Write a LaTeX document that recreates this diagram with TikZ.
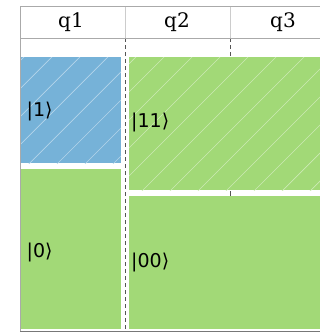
\documentclass[tikz,border=0pt]{standalone}
\usepackage{fontspec}
\setmainfont{DejaVu Serif}
\newfontfamily\labfont{DejaVu Sans}
\usetikzlibrary{patterns.meta}
\definecolor{cblue}{RGB}{118,178,216}
\definecolor{cgreen}{RGB}{162,217,119}
\definecolor{cgrid}{RGB}{170,170,170}
\definecolor{cdash}{RGB}{85,85,85}
\tikzset{
  hatch/.style={pattern={Lines[angle=45,distance=19.8pt,line width=0.7pt]},pattern color=white!45!#1},
  statelab/.style={font=\labfont\fontsize{19}{21}\selectfont, anchor=west, inner sep=0pt, text=black},
  qlab/.style={font=\fontsize{20}{22}\selectfont, inner sep=0pt},
  grid/.style={draw=cgrid, line width=1pt},
  sep/.style={draw=cdash, line width=1pt, dash pattern=on 4pt off 3pt}
}
\begin{document}
\begin{tikzpicture}[x=1pt,y=-1pt]
\useasboundingbox (0,0) rectangle (320,333);
% dashed separators
\coordinate (d1t) at (125,38); \coordinate (d1b) at (125,331);
\coordinate (d2t) at (230,38); \coordinate (d2b) at (230,331);
\draw[sep] (d1t) -- (d1b);
\draw[sep] (d2t) -- (d2b);
% regions
\fill[cblue] (21,57) rectangle (121,163);
\fill[hatch=cblue] (21,57) rectangle (121,163);
\fill[cgreen] (21,169) rectangle (121,329);
\fill[cgreen] (129,57) rectangle (320,190);
\fill[hatch=cgreen] (129,57) rectangle (320,190);
\fill[cgreen] (129,196) rectangle (320,329);
% tick of q2/q3 separator inside gap
\draw[draw=cdash, line width=1pt] (230,191) -- (230,194.5);
% header grid
\draw[grid] (20,6.5) -- (320,6.5);
\draw[grid] (20,38) -- (320,38);
\draw[grid] (20,6) -- (20,331);
\draw[grid, draw=cgrid!70!black] (20,331.5) -- (320,331.5);
\draw[draw=cgrid!60, line width=0.8pt] (125,6.5) -- (125,38);
\draw[draw=cgrid!60, line width=0.8pt] (230,6.5) -- (230,38);
% header labels
\node[qlab] (q1) at (71,22) {q1};
\node[qlab] (q2) at (177,22) {q2};
\node[qlab] (q3) at (283,22) {q3};
% state labels
\node[statelab] (s1) at (26.5,111) {|1⟩};
\node[statelab] (s0) at (26.5,252) {|0⟩};
\node[statelab] (s11) at (131,122) {|11⟩};
\node[statelab] (s00) at (131,262) {|00⟩};
\end{tikzpicture}
\end{document}
